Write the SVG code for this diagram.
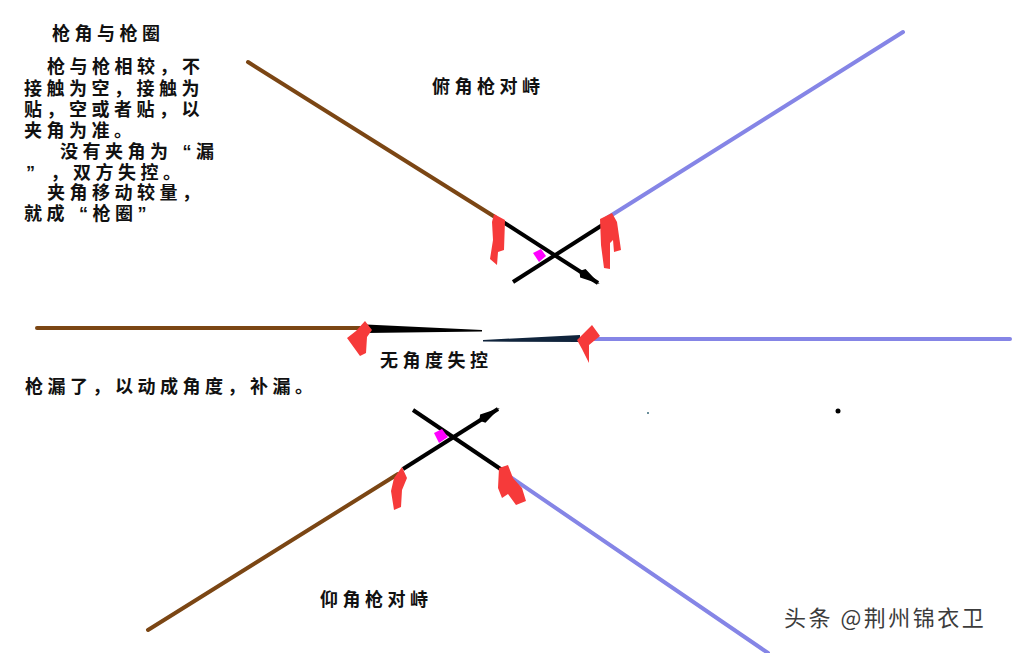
<svg xmlns="http://www.w3.org/2000/svg" width="1013" height="653" viewBox="0 0 1013 653">
<style>
.t{font-family:"Liberation Sans","Noto Sans CJK SC",sans-serif;font-size:18px;letter-spacing:4.5px;fill:#111;font-weight:700}
.brown{stroke:#7b4614;stroke-width:4;fill:none;stroke-linecap:round}
.purple{stroke:#8585e6;stroke-width:4;fill:none;stroke-linecap:round}
.blk{stroke:#000;stroke-width:4;fill:none}
.flag{fill:#f63a3a}
.mag{fill:#f0f}
.wm{font-family:"Noto Sans CJK SC","Liberation Sans",sans-serif;font-size:22px;letter-spacing:2.5px;fill:#3c3c3c}
</style>
<defs>
<marker id="ah" markerUnits="userSpaceOnUse" markerWidth="26" markerHeight="14" refX="22" refY="7" orient="auto">
<path d="M0,7 L4,2 L24,7 L4,12 Z" fill="#000"/>
</marker>
</defs>
<rect width="1013" height="653" fill="#fff"/>

<g id="texts">
<text class="t" x="52" y="40">枪角与枪圈</text>
<text class="t"><tspan x="47" y="73">枪与枪相较，不</tspan><tspan x="24" y="95">接触为空，接触为</tspan><tspan x="24" y="116">贴，空或者贴，以</tspan><tspan x="24" y="137">夹角为准。</tspan><tspan x="60" y="158">没有夹角为<tspan dx="10">“</tspan>漏</tspan><tspan x="26" y="179">”<tspan dx="11">，双方失控。</tspan></tspan><tspan x="47" y="199">夹角移动较量，</tspan><tspan x="24" y="220">就成<tspan dx="10">“</tspan>枪圈”</tspan></text>
<text class="t" x="432" y="93">俯角枪对峙</text>
<text class="t" x="380" y="367">无角度失控</text>
<text class="t" x="25" y="393">枪漏了，以动成角度，补漏。</text>
<text class="t" x="320" y="606">仰角枪对峙</text>
<text class="wm" x="784" y="626" stroke="#fff" stroke-width="3" paint-order="stroke">头条 @荆州锦衣卫</text>
</g>

<g id="connectors">
<line class="brown" x1="248" y1="62" x2="495" y2="217"/>
<line class="purple" x1="903" y1="32" x2="607" y2="218"/>
<line class="blk" x1="503" y1="222" x2="598" y2="283" marker-end="url(#ah)"/>
<line class="blk" x1="604" y1="224" x2="513" y2="282"/>
<line class="brown" x1="37" y1="328" x2="360" y2="328"/>
<line class="purple" x1="592" y1="339" x2="1010" y2="339"/>
<path d="M366,324.5 L482,330 L482,331.5 L366,333 Z" fill="#000"/>
<path d="M483,340 L580,335 L580,342 L483,341.5 Z" fill="#10243c"/>
<line class="brown" x1="148" y1="630" x2="398" y2="474"/>
<line class="purple" x1="506" y1="474" x2="768" y2="653"/>
<line class="blk" x1="403" y1="469" x2="498" y2="409" marker-end="url(#ah)"/>
<line class="blk" x1="413" y1="410" x2="502" y2="470"/>
</g>

<g id="flags">
<polygon class="flag" points="494,214 505,220 504,250 498,252 497,265 490,259 493,240 492,222"/>
<polygon class="flag" points="600,219 612,213 617,222 621,250 614,252 613,240 610,243 610,269 604,268 601,245"/>
<polygon class="flag" points="347,338 356,331 365,321 372,330 367,337 366,353 360,356"/>
<polygon class="flag" points="577,340 592,325 600,336 589,345 589,363 582,349"/>
<polygon class="flag" points="394,478 402,467 407,478 402,490 401,507 394,510 391,491"/>
<polygon class="flag" points="499,468 508,465 513,478 522,488 526,501 516,505 508,494 502,498 498,488"/>
</g>

<g id="angles">
<polygon class="mag" points="533,253 541,249 546,256 539,262"/>
<polygon class="mag" points="434,433 442,429 448,437 439,443"/>
</g>

<g id="dots">
<circle cx="838" cy="411" r="2.5" fill="#000"/>
<circle cx="648" cy="413" r="1" fill="#3a6a7a"/>
</g>
</svg>
